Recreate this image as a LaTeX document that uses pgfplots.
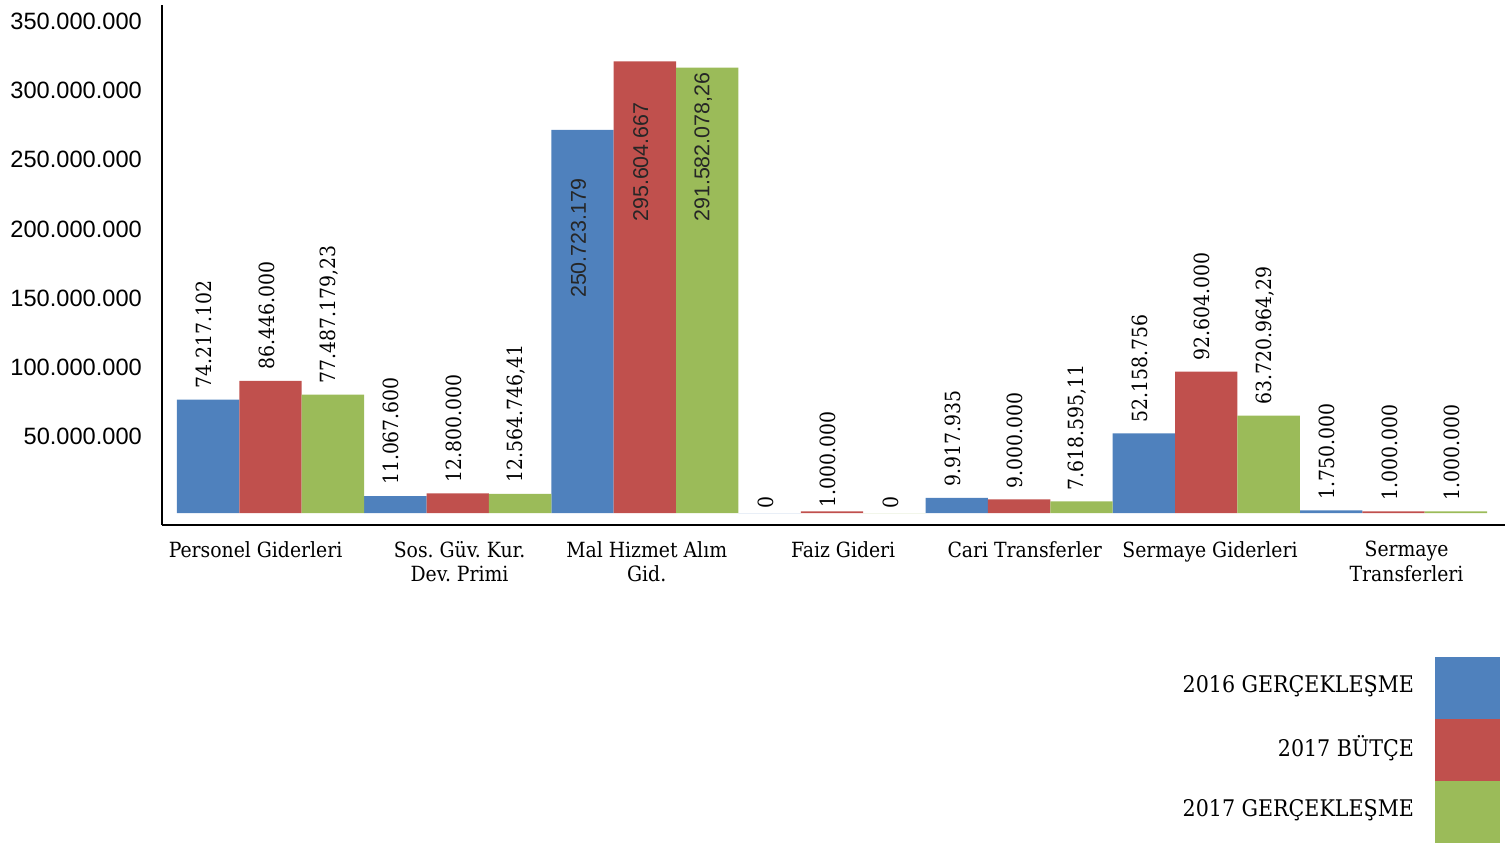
\documentclass[border=0pt]{standalone}
\usepackage{fontspec}
\setmainfont{DejaVu Serif Condensed}
\newfontfamily\serifcond{DejaVu Serif Condensed}
\newfontfamily\arialfont{Liberation Sans}
\usepackage{pgfplots}
\usepackage{pgfplotstable}
\pgfplotsset{compat=1.18}
\frenchspacing

\definecolor{cblue}{HTML}{4F81BD}
\definecolor{cred}{HTML}{C0504D}
\definecolor{cgreen}{HTML}{9BBB59}

\pgfplotstableread{
x y
0 74217102
1 11067600
2 250723179
3 0
4 9917935
5 52158756
6 1750000
}\gercA

\pgfplotstableread{
x y
0 86446000
1 12800000
2 295604667
3 1000000
4 9000000
5 92604000
6 1000000
}\butce

\pgfplotstableread{
x y
0 77487179.23
1 12564746.41
2 291582078.26
3 0
4 7618595.11
5 63720964.29
6 1000000
}\gercB

% value label standing on top of a bar (optional gap above the bar)
\newcommand{\vlab}[4][11bp]{\node[xshift=-4bp, rotate=90, anchor=west, inner xsep=#1,
  inner ysep=0pt, text=black, font=\serifcond\fontsize{21}{24}\selectfont]
  at (axis cs:#2,#3) {#4};}
% value label written inside a tall bar
\newcommand{\ilab}[3]{\node[xshift=-4bp, rotate=90, anchor=west, inner sep=0pt,
  text=black!85, font=\arialfont\fontsize{21.5}{24}\selectfont] at (axis cs:#1,#2) {#3};}

\begin{document}
\begin{tikzpicture}
\begin{axis}[
  at={(0,0)}, anchor=south west,
  scale only axis, width=1343bp, height=520bp,
  xmin=-0.580, xmax=6.596,
  ymin=-7.85e6, ymax=332.5e6,
  axis lines*=left,
  axis line style={line width=1.6bp, black},
  ybar, bar width=0.33333,
  major tick length=0pt,
  clip=false,
  xtick={-0.08,1.01,2.01,3.06,4.03,5.02,6.07},
  xticklabels={Personel Giderleri, {Sos. Güv. Kur.\\Dev. Primi},
    {Mal Hizmet Alım\\Gid.}, Faiz Gideri, Cari Transferler,
    Sermaye Giderleri, {Sermaye\\Transferleri}},
  xticklabel style={align=center, anchor=north, inner sep=0pt, yshift=-16bp,
    font=\serifcond\fontsize{21}{24.5}\selectfont},
  ytick={49.9e6,95.2e6,140.6e6,185.9e6,231.3e6,276.6e6,322.0e6},
  yticklabels={50.000.000,100.000.000,150.000.000,200.000.000,
    250.000.000,300.000.000,350.000.000},
  yticklabel style={anchor=east, inner sep=0pt, xshift=-20bp,
    font=\arialfont\fontsize{23.7}{28}\selectfont},
  legend cell align=right,
  legend plot pos=right,
  legend image code/.code={\fill[#1] (0bp,-34bp) rectangle (65bp,28bp);},
  legend style={at={(0.99628,-0.2538)}, anchor=north east,
    draw=none, fill=none, inner sep=0pt, outer sep=0pt,
    row sep=0pt, column sep=21bp, nodes={inner sep=0pt},
    font=\serifcond\fontsize{23}{27}\selectfont},
]
\addplot[fill=cblue, draw=none, bar shift=-0.33333] table[x=x, y=y] {\gercA};
\addplot[fill=cred, draw=none, bar shift=0] table[x=x, y=y] {\butce};
\addplot[fill=cgreen, draw=none, bar shift=0.33333] table[x=x, y=y] {\gercB};
\legend{2016 GERÇEKLEŞME, 2017 BÜTÇE, 2017 GERÇEKLEŞME}

\vlab{-0.33333}{74217102}{74.217.102}
\vlab{0}{86446000}{86.446.000}
\vlab{0.33333}{77487179.23}{77.487.179,23}
\vlab{0.66667}{11067600}{11.067.600}
\vlab{1}{12800000}{12.800.000}
\vlab{1.33333}{12564746.41}{12.564.746,41}
\vlab[4bp]{2.66667}{0}{0}
\vlab[4bp]{3}{1000000}{1.000.000}
\vlab[4bp]{3.33333}{0}{0}
\vlab{3.66667}{9917935}{9.917.935}
\vlab{4}{9000000}{9.000.000}
\vlab{4.33333}{7618595.11}{7.618.595,11}
\vlab{4.66667}{52158756}{52.158.756}
\vlab{5}{92604000}{92.604.000}
\vlab{5.33333}{63720964.29}{63.720.964,29}
\vlab{5.66667}{1750000}{1.750.000}
\vlab{6}{1000000}{1.000.000}
\vlab{6.33333}{1000000}{1.000.000}

\ilab{1.66667}{140.7e6}{250.723.179}
\ilab{2}{190.6e6}{295.604.667}
\ilab{2.33333}{190.6e6}{291.582.078,26}
\end{axis}
\pgfresetboundingbox
\useasboundingbox (-162bp,-323bp) rectangle (1350bp,525bp);
\end{tikzpicture}
\end{document}
